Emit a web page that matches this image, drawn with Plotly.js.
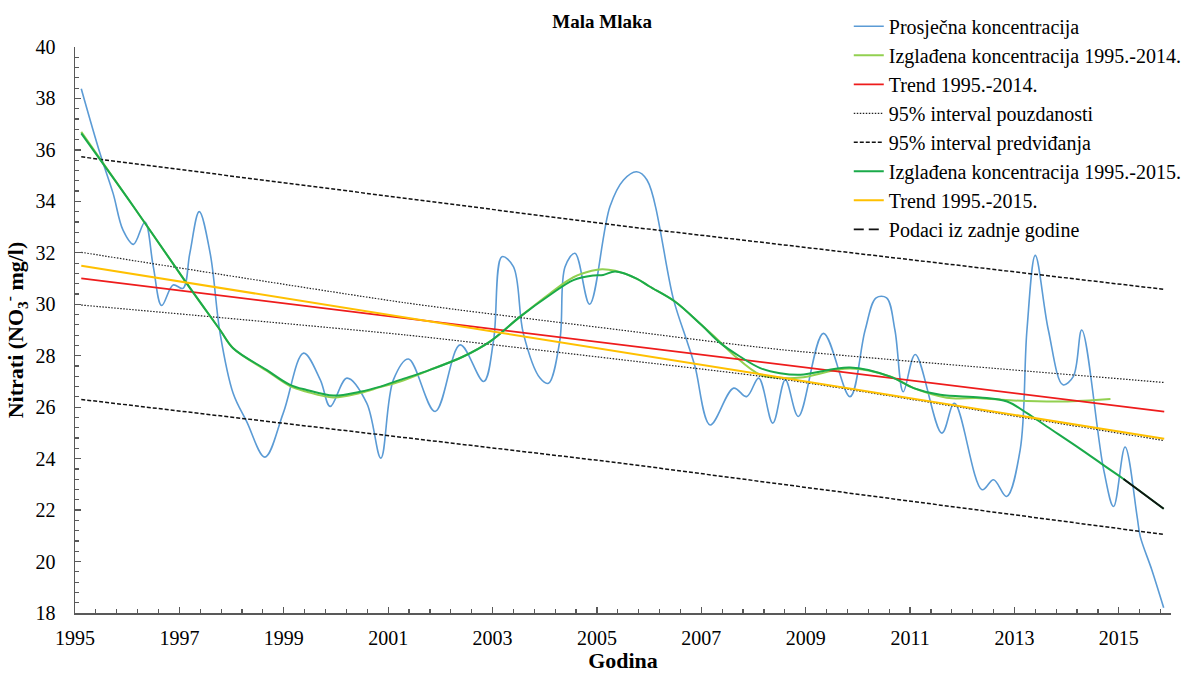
<!DOCTYPE html>
<html>
<head>
<meta charset="utf-8">
<script src="https://cdn.plot.ly/plotly-3.0.1.min.js"></script>
<style>html,body{margin:0;padding:0;background:#fff;}#chart{width:1187px;height:675px;}</style>
</head>
<body>
<div id="chart"></div>
<script>
// Prosječna koncentracija (smoothed average)
const avgYears = [1995.12,1995.48,1995.73,1995.92,1996.12,1996.34,1996.5,1996.66,1996.88,1997.07,1997.2,1997.38,1997.59,1997.78,1998.03,1998.29,1998.64,1998.99,1999.38,1999.7,1999.89,2000.21,2000.59,2000.86,2001.1,2001.39,2001.9,2002.38,2002.83,2003.02,2003.18,2003.4,2003.59,2003.91,2004.07,2004.29,2004.39,2004.58,2004.86,2005.25,2005.51,2005.76,2005.96,2006.47,2006.72,2006.88,2007.17,2007.62,2007.87,2008.1,2008.37,2008.61,2008.86,2009.34,2009.85,2010.14,2010.35,2010.55,2010.71,2010.87,2011.1,2011.61,2011.85,2012.38,2012.6,2012.85,2013.11,2013.24,2013.4,2013.65,2013.93,2014.13,2014.29,2014.71,2014.9,2015.12,2015.35,2015.41,2015.63,2015.86];
const avgConc  = [38.38,35.86,34.31,32.88,32.33,33.2,31.46,29.95,30.75,30.62,31.98,33.6,31.98,28.87,26.54,25.44,24.06,25.77,28.1,27.06,26.03,27.13,26.16,24.02,27.06,27.87,25.83,28.42,27.0,28.6,31.85,31.46,28.87,27.13,26.93,28.6,31.46,31.98,30.0,33.8,34.83,35.15,34.83,30.17,28.6,27.58,25.31,26.74,26.41,27.13,25.38,27.06,25.64,28.87,26.41,29.0,30.25,30.25,29.0,26.6,28.05,24.99,26.15,22.79,23.18,22.53,24.34,29.0,31.9,29.0,26.87,27.2,29.0,23.57,22.14,24.45,21.76,20.98,19.69,18.2];

// Izglađena koncentracija 1995.-2014.
const smooth14Years = [1995.12,1996.12,1997.11,1997.78,1998.03,1998.67,1999.12,1999.44,1999.95,2000.46,2000.85,2001.23,2001.8,2002.44,2002.95,2003.53,2004.1,2004.55,2004.9,2005.1,2005.35,2005.76,2006.0,2006.5,2007.0,2007.3,2007.62,2008.13,2008.51,2008.9,2009.85,2010.62,2011.07,2011.7,2012.34,2012.98,2013.94,2014.84];
const smooth14 = [36.7,33.8,30.9,29.0,28.29,27.42,26.82,26.6,26.38,26.55,26.78,27.0,27.45,27.97,28.55,29.52,30.42,31.05,31.3,31.36,31.3,31.0,30.7,30.1,29.2,28.65,28.03,27.26,27.14,27.15,27.5,27.19,26.74,26.37,26.35,26.26,26.22,26.32];

// Izglađena koncentracija 1995.-2015.
const smooth15Years = [1995.12,1996.12,1997.11,1997.78,1998.03,1998.67,1999.12,1999.44,1999.95,2000.46,2000.85,2001.23,2001.8,2002.44,2002.95,2003.53,2004.1,2004.55,2004.93,2005.12,2005.35,2005.76,2006.0,2006.5,2007.0,2007.36,2007.74,2008.13,2008.51,2008.9,2009.85,2010.62,2011.07,2011.58,2012.34,2012.86,2013.24,2013.62,2014.26,2014.74,2015.09,2015.86];
const smooth15 = [36.64,33.8,30.9,29.0,28.29,27.45,26.87,26.67,26.45,26.6,26.8,27.06,27.45,27.97,28.55,29.52,30.36,30.94,31.12,31.14,31.27,31.0,30.7,30.1,29.2,28.5,27.97,27.52,27.32,27.26,27.54,27.19,26.74,26.48,26.38,26.22,25.77,25.25,24.38,23.7,23.21,22.05];

// Trends
const trendYears = [1995.12, 2015.87];
const trend14 = [31.01, 25.83];
const trend15 = [31.5, 24.77];

// 95% interval pouzdanosti
const confYears = [1995.12, 2001.32, 2005.45, 2008.51, 2015.87];
const confUpper = [32.02, 30.06, 29.0, 28.24, 26.96];
const confLower = [29.97, 28.81, 27.85, 27.1, 24.7];

// 95% interval predviđanja
const predYears = [1995.12, 2005.45, 2015.87];
const predUpper = [35.73, 33.05, 30.58];
const predLower = [26.3, 23.83, 21.05];

// Podaci iz zadnje godine
const lastYears = [2015.09, 2015.5, 2015.86];
const lastConc = [23.21, 22.6, 22.05];

const names = ['Prosječna koncentracija','Izglađena koncentracija 1995.-2014.','Trend 1995.-2014.','95% interval pouzdanosti','95% interval predviđanja','Izglađena koncentracija 1995.-2015.','Trend 1995.-2015.','Podaci iz zadnje godine'];
const yTicks = [18,20,22,24,26,28,30,32,34,36,38,40];
const xTicks = [1995,1997,1999,2001,2003,2005,2007,2009,2011,2013,2015];

const traces = [
  {x: avgYears, y: avgConc, name: names[0], mode:'lines', line:{color:'#5b9bd5', width:1.6, shape:'spline', smoothing:1}},
  {x: smooth14Years, y: smooth14, name: names[1], mode:'lines', line:{color:'#92d050', width:2, shape:'spline', smoothing:1}},
  {x: trendYears, y: trend14, name: names[2], mode:'lines', line:{color:'#ee1c1c', width:1.8}},
  {x: confYears, y: confUpper, name: names[3], legendgroup:'conf', mode:'lines', line:{color:'#222', width:1.2, dash:'1.5px,1.5px', shape:'spline', smoothing:0.6}},
  {x: confYears, y: confLower, name: names[3], legendgroup:'conf', showlegend:false, mode:'lines', line:{color:'#222', width:1.2, dash:'1.5px,1.5px', shape:'spline', smoothing:0.6}},
  {x: predYears, y: predUpper, name: names[4], legendgroup:'pred', mode:'lines', line:{color:'#111', width:1.5, dash:'4px,2px'}},
  {x: predYears, y: predLower, name: names[4], legendgroup:'pred', showlegend:false, mode:'lines', line:{color:'#111', width:1.5, dash:'4px,2px'}},
  {x: smooth15Years, y: smooth15, name: names[5], mode:'lines', line:{color:'#1aaa4a', width:2, shape:'spline', smoothing:1}},
  {x: trendYears, y: trend15, name: names[6], mode:'lines', line:{color:'#ffc000', width:2}},
  {x: lastYears, y: lastConc, name: names[7], legendgroup:'last', showlegend:false, mode:'lines', line:{color:'#111', width:1.8}},
  {x: [null], y: [null], name: names[7], legendgroup:'last', mode:'lines', line:{color:'#111', width:1.8, dash:'10px,5px'}}
];

const fontFam = 'Liberation Serif, Times New Roman, serif';
const layout = {
  width: 1187, height: 675,
  margin: {l:75, r:16, t:47, b:62, autoexpand:false},
  paper_bgcolor:'#fff', plot_bgcolor:'#fff',
  font: {family: fontFam, size: 20, color:'#000'},
  showlegend: true,
  title: {text:'<b>Mala Mlaka</b>', font:{family:fontFam, size:19, color:'#000'}, xref:'paper', x:0.481, xanchor:'center', yref:'container', y:0.969, yanchor:'middle'},
  xaxis: {
    range:[1995, 2016], tickvals:xTicks, ticktext:xTicks.map(String), automargin:false,
    ticks:'inside', ticklen:6, tickwidth:1.2, tickcolor:'#595959',
    showline:true, linecolor:'#595959', linewidth:1.5, showgrid:false, zeroline:false,
    tickfont:{family:fontFam, size:20, color:'#000'}, ticklabelstandoff:6,
    minor:{dtick:0.4, tick0:1995, ticks:'inside', ticklen:4, tickcolor:'#595959', showgrid:false},
    title:{text:'<b>Godina</b>', font:{family:fontFam, size:22, color:'#000'}, standoff:4}
  },
  yaxis: {
    range:[18, 40], tickvals:yTicks, ticktext:yTicks.map(String), automargin:false,
    ticks:'inside', ticklen:6, tickwidth:1.2, tickcolor:'#595959',
    showline:true, linecolor:'#595959', linewidth:1.5, showgrid:false, zeroline:false,
    tickfont:{family:fontFam, size:20, color:'#000'}, ticklabelstandoff:14,
    minor:{dtick:0.4, tick0:18, ticks:'inside', ticklen:4, tickcolor:'#595959', showgrid:false},
    title:{text:'<b>Nitrati (NO<sub>3</sub><sup>-</sup> mg/l)</b>', font:{family:fontFam, size:22, color:'#000'}, standoff:8}
  },
  legend: {x:0.706, xanchor:'left', y:1.071, yanchor:'top', bgcolor:'rgba(0,0,0,0)', borderwidth:0,
           font:{family:fontFam, size:20, color:'#000'}, traceorder:'normal'}
};

Plotly.newPlot('chart', traces, layout, {displayModeBar:false, staticPlot:true});
</script>
</body>
</html>
